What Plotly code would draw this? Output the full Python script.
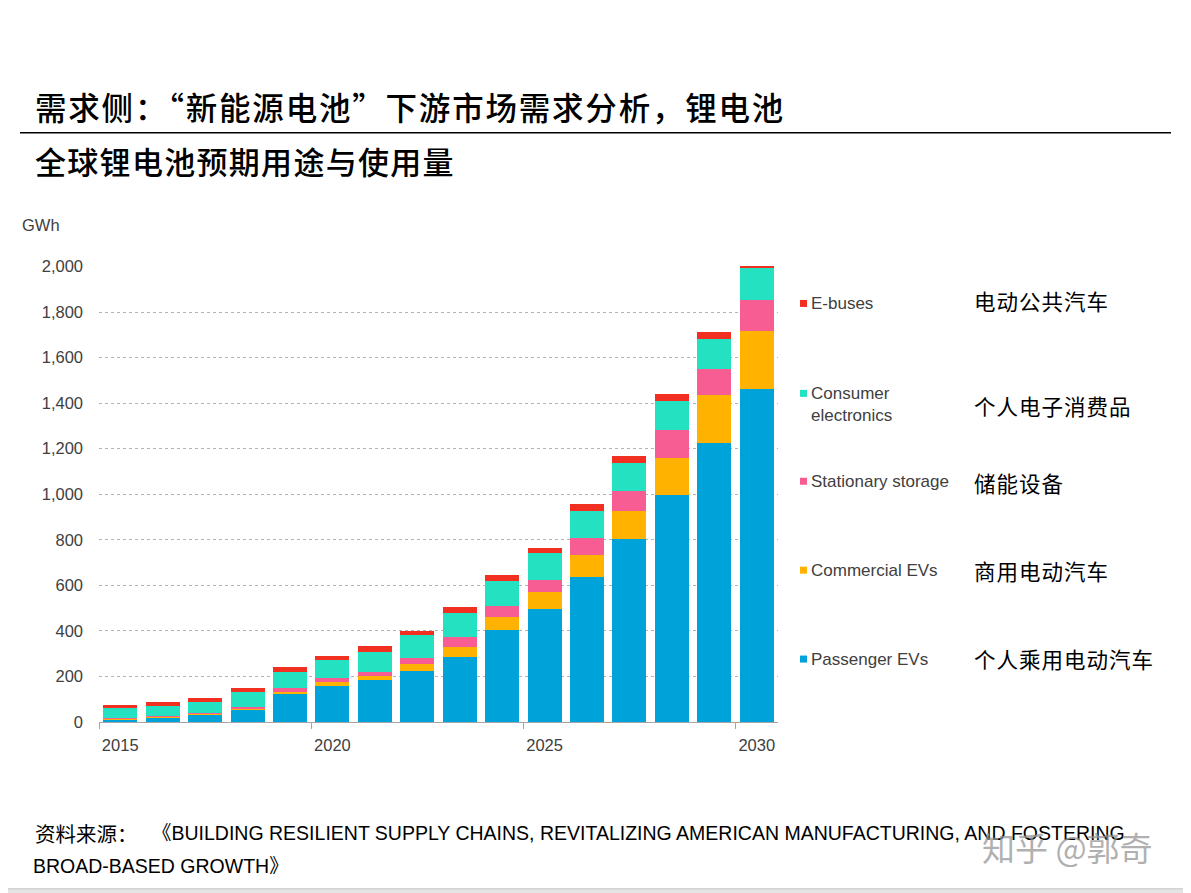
import plotly.graph_objects as go

# values (GWh), bottom to top of each stack
years = list(range(2015, 2031))
passenger_evs = [13, 21, 35, 56, 126, 159, 184, 225, 286, 404, 494, 635, 804, 996, 1227, 1463]
commercial_evs = [2, 2, 2, 3, 7, 18, 18, 30, 44, 58, 75, 99, 121, 165, 207, 253]
stationary = [4, 3, 3, 8, 17, 15, 19, 28, 44, 47, 54, 74, 90, 122, 117, 135]
consumer = [41, 44, 49, 65, 71, 80, 87, 98, 106, 111, 120, 119, 124, 126, 131, 144]
e_buses = [15, 16, 15, 18, 19, 19, 27, 19, 23, 25, 23, 28, 28, 30, 30, 5]

series_en = ["Passenger EVs", "Commercial EVs", "Stationary storage",
             "Consumer<br>electronics", "E-buses"]
series_cn = ["个人乘用电动汽车", "商用电动汽车", "储能设备", "个人电子消费品", "电动公共汽车"]
colors = ["#00A2DA", "#FFB300", "#F75C93", "#24E1C1", "#F23022"]

year_ticks = [2015, 2020, 2025, 2030]
y_ticks = list(range(0, 2001, 200))

title_text = "需求侧：“新能源电池”下游市场需求分析，锂电池"
subtitle_text = "全球锂电池预期用途与使用量"
source_cn = "资料来源："
source_line1 = "《BUILDING RESILIENT SUPPLY CHAINS, REVITALIZING AMERICAN MANUFACTURING, AND FOSTERING"
source_line2 = "BROAD-BASED GROWTH》"

# pixel layout (page coords); the page body adds an 8px margin
OFF = 8
PAGE_W, PAGE_H = 1191, 893
L, R, T, B = 99, 778, 265.5, 722


def px(x):
    return (x - L) / (R - L)


def py(y):
    return (B - y) / (B - T)


def spaced(txt, sp):
    return f"<span style='letter-spacing:{sp}px'>{txt}</span>"


fig = go.Figure()
all_series = [passenger_evs, commercial_evs, stationary, consumer, e_buses]
for vals, name, col in zip(all_series, series_en, colors):
    fig.add_trace(go.Bar(
        x=years, y=vals, name=name.replace("<br>", " "),
        marker=dict(color=col, line=dict(width=0)),
    ))

label_font = dict(family="Liberation Sans, Arial, sans-serif", size=16.5, color="#404040")
cjk = "Noto Sans CJK SC"

shapes = [
    # white slide on a grey frame
    dict(type="rect", xref="paper", yref="paper", layer="below",
         x0=px(0), x1=px(1186), y0=py(889), y1=py(0),
         fillcolor="white", line=dict(color="#c4c4c4", width=1)),
    # rule under the title
    dict(type="line", xref="paper", yref="paper",
         x0=px(20), x1=px(1171), y0=py(132), y1=py(132),
         line=dict(color="black", width=1.5)),
]

annotations = [
    dict(text=spaced(title_text, 1.8), x=px(33), y=py(105), xanchor="left", yanchor="middle",
         font=dict(family=cjk, size=31.5, color="black", weight=500)),
    dict(text=spaced(subtitle_text, 1.3), x=px(33), y=py(160), xanchor="left", yanchor="middle",
         font=dict(family=cjk, size=31, color="black", weight=500)),
    dict(text="GWh", x=px(20), y=py(224), xanchor="left", yanchor="middle",
         font=label_font),
    dict(text=source_cn, x=px(33), y=py(833), xanchor="left", yanchor="middle",
         font=dict(family=cjk, size=20.5, color="black")),
    dict(text=source_line1, x=px(150), y=py(833), xanchor="left", yanchor="middle",
         font=dict(family="Liberation Sans, " + cjk, size=19.5, color="black")),
    dict(text=source_line2, x=px(31), y=py(866), xanchor="left", yanchor="middle",
         font=dict(family="Liberation Sans, " + cjk, size=19.5, color="black")),
    dict(text="知乎 @郭奇", x=px(1067), y=py(847), xanchor="center", yanchor="middle",
         font=dict(family=cjk, size=33, color="rgba(150,150,150,0.75)")),
]

# custom legend at the right, with Chinese translations
leg_y = [659, 570, 481, 393, 303]
cn_y = [658, 570, 482, 405, 300]
for i, (name, cn, col) in enumerate(zip(series_en, series_cn, colors)):
    shapes.append(dict(type="rect", xref="paper", yref="paper",
                       x0=px(800), x1=px(807), y0=py(leg_y[i] + 3.5), y1=py(leg_y[i] - 3.5),
                       fillcolor=col, line=dict(width=0)))
    two_line = "<br>" in name
    annotations.append(dict(text=name, x=px(809), y=py(leg_y[i] - 11 if two_line else leg_y[i]),
                            xanchor="left", yanchor="top" if two_line else "middle",
                            align="left",
                            font=dict(family="Liberation Sans, Arial", size=17, color="#404040")))
    annotations.append(dict(text=spaced(cn, 1), x=px(972), y=py(cn_y[i]),
                            xanchor="left", yanchor="middle",
                            font=dict(family=cjk, size=21.5, color="black")))

for a in annotations:
    a.update(xref="paper", yref="paper", showarrow=False)

fig.update_layout(
    width=PAGE_W - OFF, height=PAGE_H - OFF,
    margin=dict(l=L - OFF, r=PAGE_W - R, t=T - OFF, b=PAGE_H - B, pad=0),
    paper_bgcolor="#e4e4e4",
    plot_bgcolor="white",
    barmode="stack",
    bargap=0.2,
    showlegend=False,
    shapes=shapes,
    annotations=annotations,
)

fig.update_xaxes(
    range=[years[0] - 0.5, years[-1] + 0.5],
    tickvals=year_ticks, ticks="", tickfont=label_font,
    ticklabelstandoff=8,
    showline=True, linecolor="#a6a6a6", linewidth=1,
    showgrid=False, zeroline=False,
    minor=dict(tickvals=[y - 0.5 for y in year_ticks], ticks="outside",
               ticklen=6, tickcolor="#a6a6a6", showgrid=False),
)

fig.update_yaxes(
    range=[0, 2002], tickvals=y_ticks, tickformat=",",
    ticks="", tickfont=label_font, ticklabelstandoff=15,
    showgrid=True, gridcolor="#b4b4b4", griddash="dot", gridwidth=1,
    zeroline=False, showline=False,
)

fig.write_html("out.html")
